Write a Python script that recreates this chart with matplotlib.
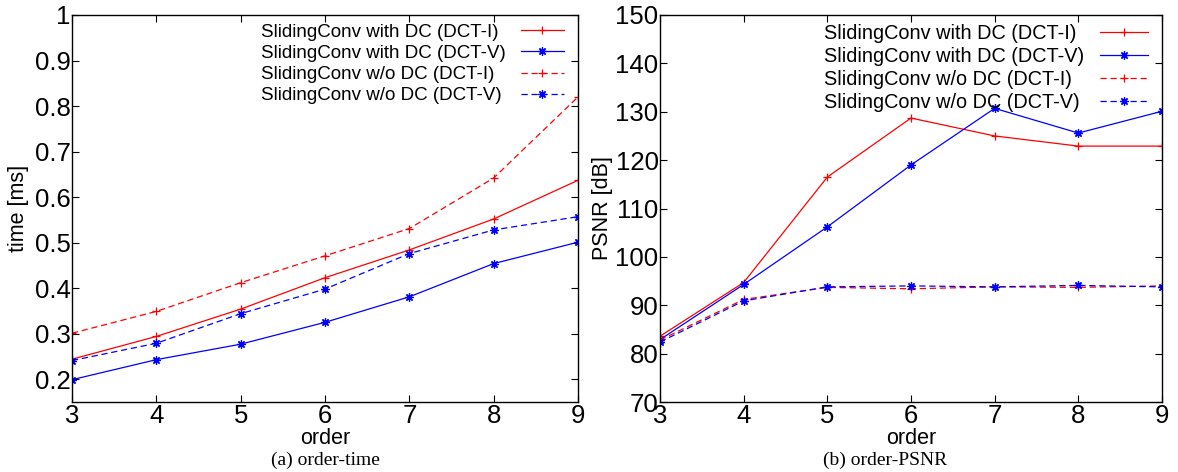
import matplotlib
matplotlib.use('Agg')
import matplotlib.pyplot as plt

# data
order = [3, 4, 5, 6, 7, 8, 9]

time_dc_dct1 = [0.244, 0.294, 0.354, 0.423, 0.484, 0.552, 0.637]
time_dc_dct5 = [0.199, 0.243, 0.277, 0.325, 0.381, 0.454, 0.501]
time_nodc_dct1 = [0.301, 0.349, 0.412, 0.471, 0.531, 0.642, 0.820]
time_nodc_dct5 = [0.241, 0.279, 0.344, 0.398, 0.476, 0.528, 0.557]

psnr_dc_dct1 = [83.6, 94.7, 116.5, 128.7, 125.0, 122.9, 122.9]
psnr_dc_dct5 = [82.9, 94.3, 106.2, 119.0, 130.7, 125.6, 130.1]
psnr_nodc_dct1 = [82.8, 91.2, 93.7, 93.4, 93.8, 93.7, 94.0]
psnr_nodc_dct5 = [82.4, 90.9, 93.8, 94.0, 93.8, 94.1, 93.8]

labels = ['SlidingConv with DC (DCT-I)', 'SlidingConv with DC (DCT-V)',
          'SlidingConv w/o DC (DCT-I)', 'SlidingConv w/o DC (DCT-V)']

plt.rcParams['font.family'] = ['Liberation Sans', 'DejaVu Sans']

W, H = 1178, 472
fig = plt.figure(figsize=(W / 100, H / 100), dpi=100)

ast = (8, 2, 0)   # gnuplot style asterisk
dash = (5, 3)


def draw(ax, series, ylim, yticks, ylabel, legsize, hlen, lspace, top):
    styles = [('red', '+', None), ('blue', ast, None),
              ('red', '+', dash), ('blue', ast, dash)]
    for y, (c, m, d), lab in zip(series, styles, labels):
        line, = ax.plot(order, y, color=c, marker=m, ms=6, mew=0.9, lw=0.9, label=lab)
        if d is not None:
            line.set_dashes(d)
    ax.set_xlim(3, 9)
    ax.set_ylim(*ylim)
    ax.set_xticks(order)
    ax.set_yticks(yticks)
    ax.set_yticklabels(['%g' % v for v in yticks])
    ax.tick_params(direction='in', length=5, width=0.8, top=True, right=True,
                   labelsize=18.5)
    ax.tick_params(axis='y', pad=1)
    ax.tick_params(axis='x', pad=1.5)
    for s in ax.spines.values():
        s.set_linewidth(1.0)
    ax.set_xlabel('order', fontsize=15.5)
    ax.xaxis.label.set_va('center')
    ax.xaxis.set_label_coords(0.5, -0.095)
    ax.set_ylabel(ylabel, fontsize=15.5)
    ax.yaxis.label.set_va('center')
    leg = ax.legend(loc='upper right', bbox_to_anchor=(0.972, top), frameon=False,
                    markerfirst=False, fontsize=legsize, borderpad=0, borderaxespad=0,
                    labelspacing=lspace, handlelength=hlen, handletextpad=0.8)
    return leg


ax1 = fig.add_axes([72 / W, 70 / H, 506 / W, 387 / H])
leg1 = draw(ax1, [time_dc_dct1, time_dc_dct5, time_nodc_dct1, time_nodc_dct5],
            (0.15, 1.0), [0.2, 0.3, 0.4, 0.5, 0.6, 0.7, 0.8, 0.9, 1.0],
            'time [ms]', 13.5, 2.3, 0.22, 0.978)
ax1.yaxis.set_label_coords(-0.105, 0.5)

ax2 = fig.add_axes([660 / W, 70 / H, 502 / W, 387 / H])
leg2 = draw(ax2, [psnr_dc_dct1, psnr_dc_dct5, psnr_nodc_dct1, psnr_nodc_dct5],
            (70, 150), list(range(70, 151, 10)),
            'PSNR [dB]', 14.3, 2.4, 0.2, 0.976)
ax2.yaxis.set_label_coords(-0.114, 0.5)

fig.text(325 / W, 12 / H, '(a) order-time', ha='center', va='center',
         fontsize=14, family='Liberation Serif')
fig.text(885 / W, 12 / H, '(b) order-PSNR', ha='center', va='center',
         fontsize=14, family='Liberation Serif')

# left-align legend texts while keeping the line samples on the right
fig.canvas.draw()
r = fig.canvas.get_renderer()
for leg in (leg1, leg2):
    widths = [t.get_window_extent(r).width for t in leg.get_texts()]
    column = leg._legend_handle_box.get_children()[0]
    for box, w in zip(column.get_children(), widths):
        box.sep += (max(widths) - w) * 72 / fig.dpi

fig.savefig('out.png', dpi=100)
